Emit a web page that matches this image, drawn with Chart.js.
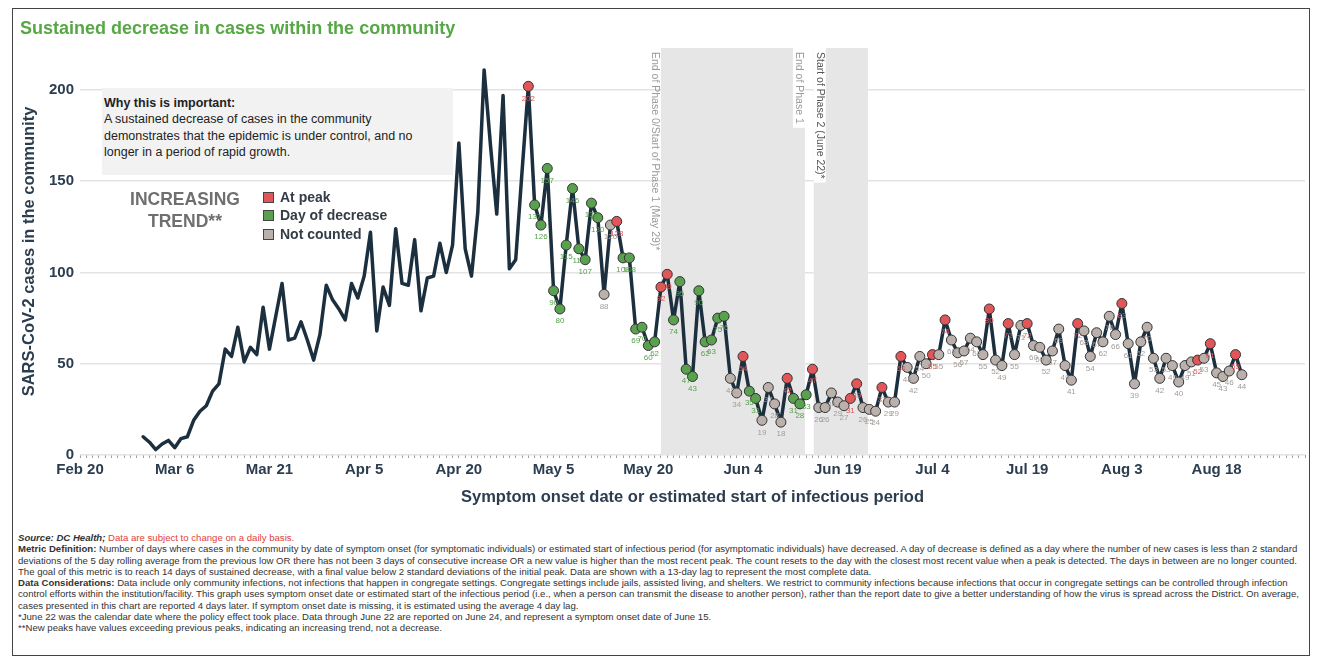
<!DOCTYPE html>
<html>
<head>
<meta charset="utf-8">
<script src="https://cdn.jsdelivr.net/npm/chart.js@4.4.1/dist/chart.umd.min.js"></script>
<style>
  body { margin: 0; background: #fff; font-family: "Liberation Sans", Arial, sans-serif; }
  #wrap { position: relative; width: 1322px; height: 668px; overflow: hidden; }
  #frame { position: absolute; left: 12px; top: 8px; width: 1296px; height: 646px; border: 1.5px solid #444; }
  #chart { position: absolute; left: 0; top: 0; }
  .ov { position: absolute; z-index: 2; white-space: nowrap; }
  #title { left: 20px; top: 18px; font-size: 18px; font-weight: bold; color: #56a844; }
  #why { left: 102px; top: 88px; width: 349px; height: 87px; background: #f2f2f2; padding-left: 2px;
         font-size: 12.5px; line-height: 16.3px; color: #222; }
  #why div { height: 16.3px; }
  #why b { display: block; margin-top: 7px; }
  #trend { left: 110px; top: 188px; width: 150px; text-align: center; font-size: 17.5px; font-weight: bold;
           color: #6f6f6f; line-height: 22px; }
  #legend { left: 263px; top: 188px; font-size: 14px; font-weight: bold; color: #333c47; line-height: 18.3px; }
  #legend span { display: inline-block; width: 9px; height: 9px; border: 1px solid #444; margin-right: 6px;
                 vertical-align: -1px; }
  #notes { left: 18px; top: 532px; font-size: 9.6px; line-height: 11.3px; color: #333; }
  #notes .red { color: #e0413a; }
</style>
</head>
<body>
<div id="wrap">
  <div id="frame"></div>
  <canvas id="chart" width="1322" height="511"></canvas>
  <div class="ov" id="title">Sustained decrease in cases within the community</div>
  <div class="ov" id="why">
    <b>Why this is important:</b>
    <div>A sustained decrease of cases in the community</div>
    <div>demonstrates that the epidemic is under control, and no</div>
    <div>longer in a period of rapid growth.</div>
  </div>
  <div class="ov" id="trend">INCREASING<br>TREND**</div>
  <div class="ov" id="legend">
    <div><span style="background:#e15759"></span>At peak</div>
    <div><span style="background:#59a14f"></span>Day of decrease</div>
    <div><span style="background:#bab0ac"></span>Not counted</div>
  </div>
  <div class="ov" id="notes">
    <div><b><i>Source: DC Health;</i></b> <span class="red">Data are subject to change on a daily basis.</span></div>
    <div><b>Metric Definition:</b> Number of days where cases in the community by date of symptom onset (for symptomatic individuals) or estimated start of infectious period (for asymptomatic individuals) have decreased. A day of decrease is defined as a day where the number of new cases is less than 2 standard</div>
    <div>deviations of the 5 day rolling average from the previous low OR there has not been 3 days of consecutive increase OR a new value is higher than the most recent peak. The count resets to the day with the closest most recent value when a peak is detected. The days in between are no longer counted.</div>
    <div>The goal of this metric is to reach 14 days of sustained decrease, with a final value below 2 standard deviations of the initial peak. Data are shown with a 13-day lag to represent the most complete data.</div>
    <div><b>Data Considerations:</b> Data include only community infections, not infections that happen in congregate settings. Congregate settings include jails, assisted living, and shelters. We restrict to community infections because infections that occur in congregate settings can be controlled through infection</div>
    <div>control efforts within the institution/facility. This graph uses symptom onset date or estimated start of the infectious period (i.e., when a person can transmit the disease to another person), rather than the report date to give a better understanding of how the virus is spread across the District. On average,</div>
    <div>cases presented in this chart are reported 4 days later. If symptom onset date is missing, it is estimated using the average 4 day lag.</div>
    <div>*June 22 was the calendar date where the policy effect took place. Data through June 22 are reported on June 24, and represent a symptom onset date of June 15.</div>
    <div>**New peaks have values exceeding previous peaks, indicating an increasing trend, not a decrease.</div>
  </div>
</div>
<script>
// x axis counts days from Feb 20; a tick label every 15 days
const tickLabels = ["Feb 20", "Mar 6", "Mar 21", "Apr 5", "Apr 20", "May 5", "May 20",
  "Jun 4", "Jun 19", "Jul 4", "Jul 19", "Aug 3", "Aug 18"];

// daily community cases, Mar 1 (day 10) to Aug 22 (day 184)
const firstDay = 10;
const cases = [
  10, 7, 3, 6, 8, 4, 9, 10, 19, 24,
  27, 35, 39, 58, 54, 70, 51, 59, 55, 81,
  58, 76, 94, 63, 64, 73, 63, 52, 66, 93,
  85, 80, 74, 94, 86, 98, 122, 68, 92, 82,
  124, 94, 93, 118, 79, 97, 98, 116, 100, 115,
  171, 113, 98, 133, 211, 170, 132, 197, 102, 107,
  155, 202,
  137, 126, 157, 90, 80, 115, 146, 113, 107, 138,
  130, 88, 126, 128, 108, 108, 69, 70, 60, 62,
  92, 99, 74, 95, 47, 43, 90, 62, 63, 75,
  76, 42, 34, 54, 35, 31, 19, 37, 28, 18,
  42, 31, 28, 33, 47, 26, 26, 34, 29, 27,
  31, 39, 26, 25, 24, 37, 29, 29, 54, 48,
  42, 54, 50, 55, 55, 74, 63, 56, 57, 64,
  62, 55, 80, 52, 49, 72, 55, 71, 72, 60,
  59, 52, 57, 69, 49, 41, 72, 68, 54, 67,
  62, 76, 66, 83, 61, 39, 62, 70, 53, 42,
  53, 49, 40, 49, 51, 52, 53, 61, 45, 43,
  46, 55, 44
];

// status from May 1 (day 71) on: P = at peak, D = day of decrease, N = not counted
const statusStart = 71;
const status = ("P DDDDDDDDDDD NN P DDDDDD PP DDDDDDDDD NN P DD NNNN P DDD P NNNNN PP NNN P NN P NNNN " +
  "P N P NNNNNN P NN P NN P NNNNNNN P NNNNNN P NNNNNNNNNNN P N P NNN P N").replace(/ /g, "").split("");

// shaded phase periods (in days from Feb 20)
const bandStarts = [92, 116.2];
const bandEnds = [114.8, 124.8];
const bandNotes = ["End of Phase 0/Start of Phase 1 (May 29)*", "End of Phase 1", "Start of Phase 2 (June 22)*"];

const fill = { P: "#e15759", D: "#59a14f", N: "#bab0ac" };
const textColor = { P: "#e15759", D: "#59a14f", N: "#a39c98" };
const font = "'Liberation Sans', Arial, sans-serif";
const ink = "#2b3d4f";

function statusAt(i) {
  const k = firstDay + i - statusStart;
  return k >= 0 ? status[k] : null;
}

const bands = {
  id: "bands",
  beforeDatasetsDraw(chart) {
    const { ctx, chartArea, scales } = chart;
    ctx.save();
    ctx.fillStyle = "#e6e6e6";
    for (let i = 0; i < bandStarts.length; i++) {
      const x0 = scales.x.getPixelForValue(bandStarts[i]);
      const x1 = scales.x.getPixelForValue(bandEnds[i]);
      ctx.fillRect(x0, chartArea.top, x1 - x0, chartArea.bottom - chartArea.top);
    }
    ctx.font = "10.5px " + font;
    ctx.textBaseline = "middle";
    const note = (text, x, color, box) => {
      const w = ctx.measureText(text).width;
      if (box) {
        ctx.fillStyle = "#fff";
        ctx.fillRect(x - 6, chartArea.top, 12, w + 8);
      }
      ctx.save();
      ctx.translate(x, chartArea.top + 4);
      ctx.rotate(Math.PI / 2);
      ctx.fillStyle = color;
      ctx.fillText(text, 0, 0);
      ctx.restore();
    };
    note(bandNotes[0], scales.x.getPixelForValue(bandStarts[0]) - 6, "#9a9a9a", false);
    note(bandNotes[1], scales.x.getPixelForValue(bandEnds[0]) - 6, "#9a9a9a", true);
    note(bandNotes[2], scales.x.getPixelForValue(bandStarts[1]) + 6, "#555", true);
    ctx.restore();
  }
};

const valueLabels = {
  id: "valueLabels",
  afterDatasetsDraw(chart) {
    const { ctx } = chart;
    const meta = chart.getDatasetMeta(0);
    ctx.save();
    ctx.font = "8px " + font;
    ctx.textAlign = "center";
    ctx.textBaseline = "middle";
    meta.data.forEach((pt, i) => {
      const s = statusAt(i);
      if (!s) return;
      ctx.fillStyle = textColor[s];
      ctx.fillText(String(cases[i]), pt.x, pt.y + 12);
    });
    ctx.restore();
  }
};

new Chart(document.getElementById("chart"), {
  type: "line",
  data: {
    datasets: [{
      data: cases.map((v, i) => ({ x: firstDay + i, y: v })),
      borderColor: "#1b2f3e",
      borderWidth: 3.5,
      borderJoinStyle: "round",
      borderCapStyle: "round",
      tension: 0,
      pointRadius: (c) => (statusAt(c.dataIndex) ? 5 : 0),
      pointHoverRadius: (c) => (statusAt(c.dataIndex) ? 5 : 0),
      pointBackgroundColor: (c) => fill[statusAt(c.dataIndex)] || "#000",
      pointBorderColor: "#333",
      pointBorderWidth: 1
    }]
  },
  options: {
    responsive: false,
    animation: false,
    layout: { padding: { left: 14, right: 17, top: 48, bottom: 0 } },
    plugins: { legend: { display: false }, tooltip: { enabled: false } },
    scales: {
      x: {
        type: "linear",
        min: 0,
        max: 194,
        afterFit: (s) => { s.height = 56; },
        border: { display: false },
        grid: { drawOnChartArea: false, drawTicks: true, tickLength: 3, color: "#a0a0a0", lineWidth: 1 },
        ticks: {
          stepSize: 1,
          autoSkip: false,
          maxRotation: 0,
          minRotation: 0,
          padding: 3,
          color: ink,
          font: { family: font, size: 15, weight: "bold" },
          callback: (v) => (v % 15 === 0 ? tickLabels[v / 15] : "")
        },
        title: {
          display: true,
          text: "Symptom onset date or estimated start of infectious period",
          color: ink,
          font: { family: font, size: 16.5, weight: "bold" },
          padding: { top: 0, bottom: 4 }
        }
      },
      y: {
        min: 0,
        max: 223,
        afterFit: (s) => { s.width = 66; },
        border: { display: false },
        grid: { color: "#e3e3e3", lineWidth: 1.5, drawTicks: false },
        ticks: {
          stepSize: 50,
          includeBounds: false,
          padding: 6,
          color: ink,
          font: { family: font, size: 15, weight: "bold" }
        },
        title: {
          display: true,
          text: "SARS-CoV-2 cases in the community",
          color: ink,
          font: { family: font, size: 16.5, weight: "bold" },
          padding: { top: 6, bottom: 0 }
        }
      }
    }
  },
  plugins: [bands, valueLabels]
});
</script>
</body>
</html>
